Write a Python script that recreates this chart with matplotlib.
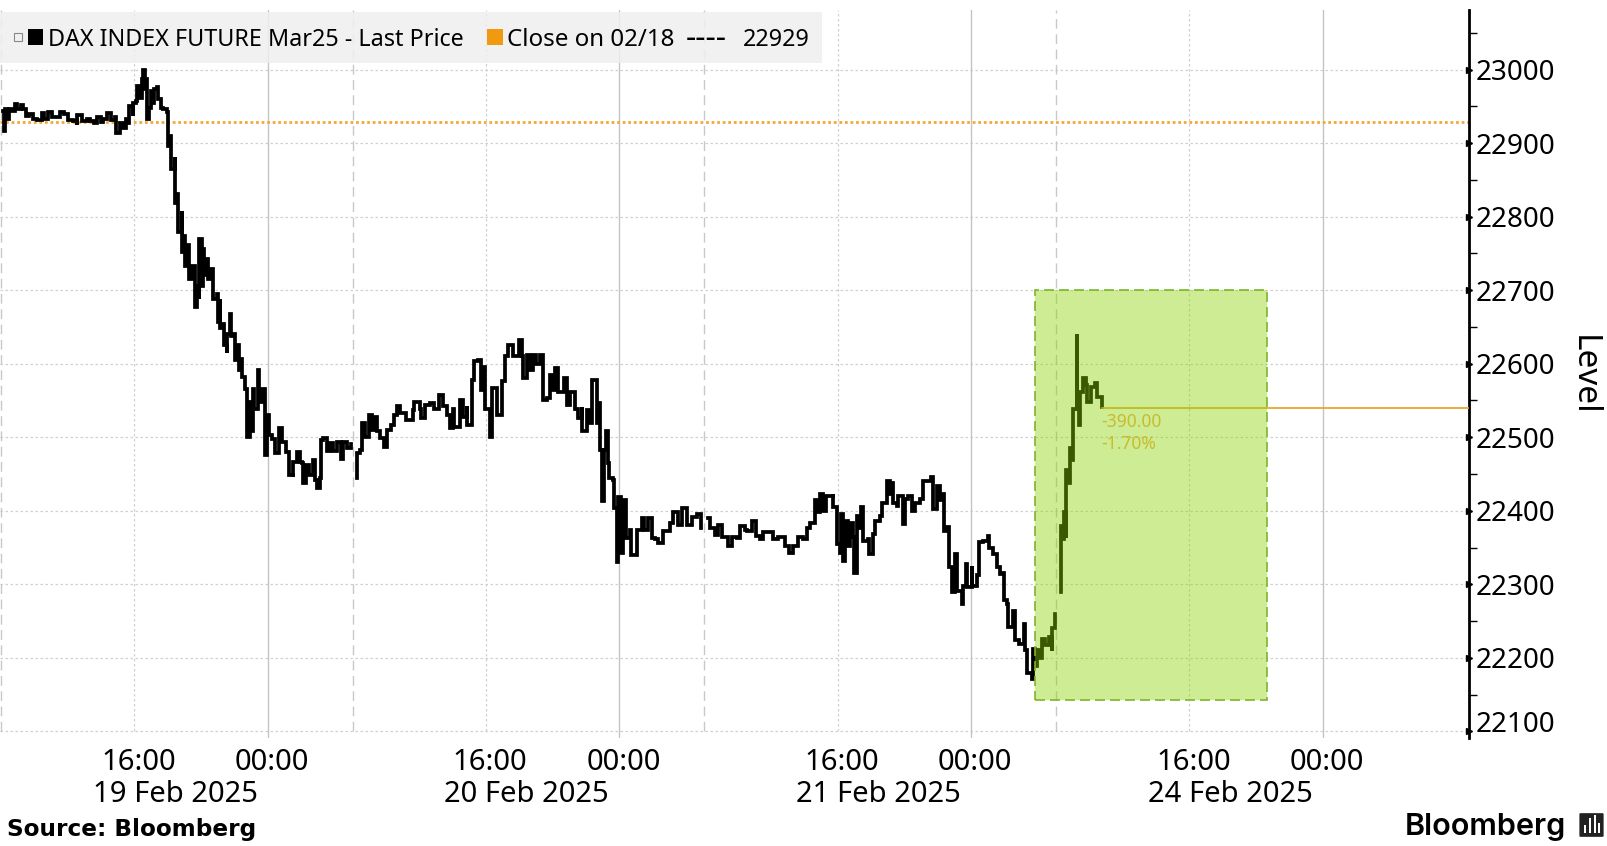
import matplotlib
matplotlib.use('Agg')
import matplotlib.pyplot as plt
import matplotlib.transforms as mtrans
from matplotlib.patches import Rectangle, FancyBboxPatch
import numpy as np

plt.rcParams['font.family'] = ['Noto Sans', 'DejaVu Sans']

# x is trading hours since the left edge of the chart, y is the index level
feb19 = [(.16,22944),(.24,22917),(.30,22946),(.44,22933),(.56,22946),(.70,22944),(.90,22953),(1.04,22946),
    (1.24,22952),(1.40,22946),(1.56,22937),(1.76,22939),(2.00,22933),(2.24,22932),(2.50,22941),(2.64,22933),
    (2.90,22942),(3.10,22936),(3.40,22935),(3.60,22942),(3.84,22939),(4.10,22932),(4.40,22930),(4.60,22924),
    (4.64,22938),(4.90,22930),(5.20,22933),(5.40,22930),(5.64,22927),(5.80,22935),(6.06,22929),(6.20,22933),
    (6.44,22941),(6.64,22932),(6.90,22935),(6.96,22914),(7.12,22914),(7.20,22928),(7.36,22921),(7.56,22933),
    (7.70,22928),(7.76,22951),(7.96,22937),(8.00,22955),(8.16,22957),(8.20,22978),(8.36,22962),(8.50,22987),
    (8.58,23000),(8.68,22973),(8.76,22987),(8.82,22933),(8.96,22948),(9.04,22971),(9.16,22955),(9.26,22973),
    (9.40,22976),(9.50,22960),(9.64,22948),(9.80,22946),(10.00,22942),(10.10,22896),(10.20,22910),(10.28,22865),
    (10.48,22881),(10.52,22819),(10.64,22831),(10.70,22779),(10.90,22808),(10.92,22752),(11.04,22774),(11.10,22733),
    (11.30,22761),(11.34,22715),(11.54,22733),(11.68,22677),(11.80,22706),(11.94,22688),(11.96,22770),(12.10,22706),
    (12.16,22756),(12.24,22720),(12.36,22743),(12.50,22715),(12.64,22729),(12.76,22688),(13.00,22695),(13.10,22657),
    (13.20,22688),(13.22,22648),(13.40,22654),(13.44,22625),(13.60,22614),(13.64,22641),(13.80,22668),(13.84,22638),
    (14.04,22641),(14.10,22605),(14.24,22625),(14.32,22591),(14.48,22607),(14.52,22582),(14.70,22566),(14.80,22548),
    (14.84,22500),(15.00,22548),(15.04,22509),(15.16,22566),(15.24,22539),(15.46,22591),(15.56,22548),(15.72,22566),
    (15.90,22476),(16.00,22530),(16.12,22503),(16.30,22498),(16.52,22478),(16.76,22512),(16.90,22494),(17.16,22480),
    (17.32,22448),(17.56,22446),(17.60,22466),(17.84,22480),(18.00,22466),(18.11,22465),(18.21,22438),(18.37,22462),
    (18.57,22449),(18.77,22469),(18.91,22442),(19.05,22431),(19.21,22444),(19.25,22496),(19.41,22499),(19.61,22481),
    (19.81,22492),(20.01,22481),(20.21,22494),(20.45,22471),(20.61,22494),(20.81,22485),(21.05,22491)]

feb20 = [(21.41,22444),(21.45,22478),(21.61,22483),(21.73,22519),(21.91,22501),(22.13,22530),(22.31,22510),(22.45,22528),
    (22.61,22508),(22.81,22499),(23.05,22487),(23.21,22510),(23.45,22517),(23.65,22530),(23.81,22542),(24.01,22533),
    (24.37,22524),(24.81,22537),(24.87,22548),(25.21,22539),(25.27,22526),(25.51,22544),(25.81,22546),(26.05,22539),
    (26.37,22557),(26.61,22542),(26.81,22530),(27.01,22512),(27.17,22539),(27.25,22514),(27.61,22551),(27.81,22528),
    (28.01,22542),(28.05,22517),(28.31,22578),(28.45,22603),(28.71,22605),(28.85,22564),(29.05,22596),(29.11,22539),
    (29.41,22501),(29.51,22567),(29.81,22530),(30.11,22576),(30.31,22610),(30.51,22625),(30.81,22610),(31.15,22632),
    (31.31,22610),(31.41,22580),(31.61,22612),(31.81,22591),(32.01,22612),(32.17,22600),(32.41,22612),(32.57,22603),
    (32.61,22551),(32.81,22553),(33.01,22585),(33.11,22564),(33.31,22594),(33.51,22562),(33.85,22580),(34.05,22544),
    (34.21,22562),(34.51,22539),(34.71,22526),(34.91,22541),(34.95,22508),(35.21,22537),(35.41,22519),(35.51,22578),
    (35.75,22578),(35.81,22519),(35.97,22546),(36.01,22483),(36.15,22413),(36.25,22483),(36.37,22508),(36.49,22465),
    (36.57,22444),(36.81,22442),(36.83,22404),(37.01,22331),(37.11,22419),(37.25,22343),(37.41,22415),(37.55,22363),
    (37.81,22374),(37.87,22340),(38.11,22340),(38.21,22374),(38.51,22390),(38.67,22374),(38.87,22390),(39.11,22363),
    (39.31,22361),(39.51,22356),(39.81,22372),(40.21,22383),(40.41,22399),(40.71,22381),(40.95,22404),(41.21,22381),
    (41.51,22392),(41.81,22395),(42.05,22376)]

feb21 = [(42.51,22390),(42.61,22376),(42.91,22367),(43.07,22381),(43.31,22365),(43.71,22352),(43.91,22365),(44.25,22363),
    (44.41,22379),(44.71,22374),(44.86,22373),(45.12,22386),(45.38,22366),(45.62,22362),(45.82,22371),(46.12,22371),
    (46.42,22362),(46.72,22364),(47.12,22352),(47.36,22343),(47.62,22352),(47.92,22364),(48.22,22362),(48.42,22377),
    (48.62,22384),(48.86,22384),(48.92,22414),(49.06,22398),(49.22,22423),(49.42,22400),(49.58,22420),(49.98,22423),
    (50.02,22405),(50.22,22400),(50.24,22355),(50.42,22343),(50.48,22395),(50.62,22332),(50.72,22386),(50.92,22352),
    (51.02,22384),(51.22,22364),(51.28,22316),(51.42,22393),(51.58,22377),(51.66,22405),(51.82,22359),(52.12,22362),
    (52.14,22341),(52.32,22341),(52.38,22368),(52.52,22386),(52.82,22393),(52.92,22411),(53.12,22411),(53.22,22441),
    (53.42,22423),(53.52,22438),(53.58,22411),(53.82,22407),(53.92,22420),(54.22,22382),(54.32,22416),(54.52,22420),
    (54.72,22400),(54.92,22411),(55.22,22416),(55.38,22441),(55.62,22441),(55.86,22446),(55.98,22402),(56.22,22402),
    (56.26,22434),(56.42,22414),(56.62,22423),(56.66,22373),(56.86,22378),(56.98,22323),(57.12,22289),(57.32,22341),
    (57.46,22291),(57.72,22273),(57.82,22298),(57.98,22328),(58.02,22296),(58.32,22325),(58.36,22298),(58.66,22312),
    (58.74,22357),(59.02,22359),(59.32,22366),(59.38,22350),(59.62,22341),(59.82,22323),(60.02,22314),(60.22,22316),
    (60.24,22278),(60.42,22273),(60.52,22242),(60.82,22264),(60.92,22224),(61.18,22219),(61.46,22246),(61.52,22210),
    (61.66,22180),(61.92,22171),(62.02,22212),(62.12,22189),(62.26,22211),(62.38,22200),(62.52,22225),(62.72,22218),
    (62.98,22229),(63.12,22209),(63.14,22241),(63.32,22259)]

feb24 = [(63.66,22290),(63.68,22379),(63.82,22361),(63.84,22399),(63.98,22363),(64.00,22456),(64.18,22438),(64.22,22485),
    (64.36,22469),(64.38,22538),(64.58,22538),(64.62,22641),(64.66,22539),(64.78,22517),(64.82,22562),(64.98,22580),
    (65.18,22571),(65.26,22548),(65.42,22548),(65.46,22569),(65.72,22574),(65.86,22555),(66.12,22553),(66.14,22541)]

sessions = [feb19, feb20, feb21, feb24]

prev_close = 22929
last_price = 22540
levels = [23000, 22900, 22800, 22700, 22600, 22500, 22400, 22300, 22200, 22100]
minor_levels = [23050, 22950, 22850, 22750, 22650, 22550, 22450, 22350, 22250, 22150]
session_len = 21.11
h_16 = [8.06 + session_len*k for k in range(4)]
h_00 = [16.07 + session_len*k for k in range(4)]
h_08 = [0.06 + session_len*k for k in range(4)]
time_labels = ['16:00', '00:00'] * 4
date_labels = ['19 Feb 2025', '20 Feb 2025', '21 Feb 2025', '24 Feb 2025']
box_hours = (62.12, 76.08)
box_levels = (22142, 22700)

W, H = 1608, 846
fig = plt.figure(figsize=(W/100, H/100), dpi=100)
ax = fig.add_axes([0, 1-738/H, 1469/W, 728/H])
ax.set_xlim(0, 88.18)
ax.set_ylim(22091, 23081)

def fx(x):
    return x/W

def fy(y):
    return 1-y/H

# grid
for l in levels:
    ax.axhline(l, color='#d0d0d0', lw=0.9, ls=(0, (2, 2)), zorder=1)
for h in h_16:
    ax.plot([h, h], [22100, 23081], color='#d0d0d0', lw=0.9, ls=(0, (2, 2)), zorder=1)
for h in h_08:
    ax.plot([h, h], [22100, 23081], color='#c8c8c8', lw=1, ls=(0, (7, 4)), zorder=1)
for h in h_00:
    ax.axvline(h, color='#c4c4c4', lw=1, zorder=1)

ax.axhline(prev_close, color='#f2a93b', lw=2, ls=(0, (1, 1)), zorder=2)

for s in sessions:
    x, y = zip(*s)
    ax.plot(x, y, color='k', lw=2.7, drawstyle='steps-post', solid_joinstyle='miter', zorder=3)

ax.plot([sessions[-1][-1][0], 88.18], [last_price, last_price], color='#e8a020', lw=1.2, zorder=3)

# green box goes over the line so that the line turns dark green inside it
ax.add_patch(Rectangle((box_hours[0], box_levels[0]), box_hours[1]-box_hours[0], box_levels[1]-box_levels[0],
                       facecolor=(0.55, 0.83, 0.0, 0.42), edgecolor='none', zorder=4))
ax.add_patch(Rectangle((box_hours[0], box_levels[0]), box_hours[1]-box_hours[0], box_levels[1]-box_levels[0],
                       fill=False, edgecolor='#7db52a', lw=1.2, ls=(0, (6, 3)), zorder=4))

ax.text(66.1, 22521, '-390.00', color='#c9bb2c', fontsize=12.5, va='center', zorder=5)
ax.text(66.1, 22491, '-1.70%', color='#c9bb2c', fontsize=12.5, va='center', zorder=5)

# axes
for side in ['top', 'left', 'bottom']:
    ax.spines[side].set_visible(False)
ax.spines['right'].set_linewidth(2)
ax.yaxis.tick_right()
ax.set_yticks(levels)
ax.set_yticklabels([str(l) for l in levels], fontsize=20)
ax.set_yticks(minor_levels, minor=True)
ax.tick_params(axis='y', which='major', length=0, pad=5)
ax.tick_params(axis='y', which='minor', length=6, width=1, direction='out', color='k')
ax.plot([1.0]*len(levels), levels, ls='none', marker='>', ms=5, color='k',
        transform=ax.get_yaxis_transform(), clip_on=False, zorder=6)
for tick in ax.yaxis.get_major_ticks():
    if tick.label2.get_text() == '22100':
        tick.label2.set_transform(tick.label2.get_transform() +
                                  mtrans.ScaledTranslation(0, 7/72, fig.dpi_scale_trans))

ax.set_xticks(np.ravel(list(zip(h_16, h_00))) + 0.25)
ax.set_xticklabels(time_labels, fontsize=21)
ax.set_xticks([h_16[k] + 2.45 for k in range(4)], labels=date_labels, minor=True, fontsize=21)
ax.tick_params(axis='x', which='major', length=0, pad=7)
ax.tick_params(axis='x', which='minor', length=0, pad=30)

fig.text(fx(1583), fy(375), 'Level', rotation=270, fontsize=24, ha='center', va='center')

# legend strip
fig.patches.append(Rectangle((0, fy(63)), fx(822), 51/H, transform=fig.transFigure,
                             facecolor='#efefef', alpha=0.85, edgecolor='none', zorder=5))
fig.patches.append(Rectangle((fx(28), fy(45)), fx(15), 16/H, transform=fig.transFigure,
                             facecolor='k', edgecolor='none', zorder=6))
fig.patches.append(Rectangle((fx(487), fy(45)), fx(16), 16/H, transform=fig.transFigure,
                             facecolor='#f09a10', edgecolor='none', zorder=6))
fig.patches.append(Rectangle((fx(14), fy(41)), fx(8), 8/H, transform=fig.transFigure,
                             fill=False, edgecolor='#888888', lw=0.8, zorder=6))
fig.text(fx(48), fy(40), 'DAX INDEX FUTURE Mar25 - Last Price', fontsize=16.8, va='center', zorder=7)
fig.text(fx(507), fy(40), 'Close on 02/18', fontsize=17.4, va='center', zorder=7)
fig.text(fx(686), fy(40), '----', fontsize=23, va='center', zorder=7)
fig.text(fx(743), fy(40), '22929', fontsize=16.8, va='center', zorder=7)

# footer
fig.text(fx(7), fy(829), 'Source: Bloomberg', family='DejaVu Sans', fontweight='bold', fontsize=16.7, va='center')
fig.text(fx(1405), fy(827), 'Bloomberg', family='Inter', fontweight='semibold', fontsize=22, va='center')
fig.patches.append(FancyBboxPatch((fx(1581), fy(836)), fx(21), 22/H, boxstyle='round,pad=0.001',
                                  transform=fig.transFigure, facecolor='#222222', edgecolor='none', zorder=6))
for bx, bh in zip([1584, 1589, 1594, 1598], [8, 15, 18, 10]):
    fig.patches.append(Rectangle((fx(bx), fy(833)), fx(2.5), bh/H, transform=fig.transFigure,
                                 facecolor='white', edgecolor='none', zorder=7))

fig.savefig('out.png', dpi=100)
